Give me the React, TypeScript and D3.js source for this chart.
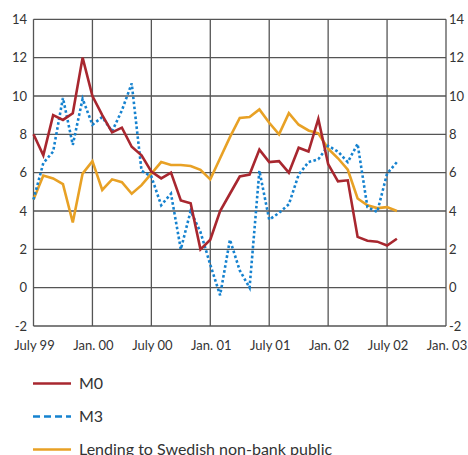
import React from "react";
import * as d3 from "d3";

// monthly observations, July 1999 .. August 2002
const m0 = [
  8.0, 6.9, 9.0, 8.75, 9.1, 12.0,
  10.0, 9.0, 8.1, 8.35, 7.35, 6.9, 6.05, 5.7, 6.0, 4.55, 4.4, 2.0,
  2.5, 4.0, 4.9, 5.8, 5.9, 7.2, 6.55, 6.6, 6.0, 7.3, 7.1, 8.8,
  6.45, 5.55, 5.6, 2.65, 2.45, 2.4, 2.2, 2.55,
];
const m3 = [
  4.6, 6.5, 7.1, 9.9, 7.45, 9.85,
  8.5, 8.9, 8.15, 9.25, 10.65, 6.1, 5.8, 4.3, 4.9, 2.0, 4.0, 2.9,
  1.2, -0.4, 2.5, 0.9, 0.0, 6.1, 3.55, 3.9, 4.35, 5.9, 6.55, 6.7,
  7.4, 7.1, 6.55, 7.5, 4.2, 3.95, 5.95, 6.55,
];
const lending = [
  4.6, 5.85, 5.7, 5.4, 3.4, 5.95,
  6.6, 5.1, 5.65, 5.5, 4.9, 5.35, 5.95, 6.55, 6.4, 6.4, 6.35, 6.15,
  5.65, 6.75, 7.85, 8.85, 8.9, 9.3, 8.6, 8.0, 9.1, 8.5, 8.2, 8.05,
  7.25, 6.75, 6.15, 4.65, 4.3, 4.15, 4.2, 4.0,
];
const xTickLabels = ["July 99", "Jan. 00", "July 00", "Jan. 01", "July 01", "Jan. 02", "July 02", "Jan. 03"];
const yTicks = [-2, 0, 2, 4, 6, 8, 10, 12, 14];
const seriesNames = ["M0", "M3", "Lending to Swedish non-bank public"];

const W = 468;
const H = 455;
const left = 33.5;
const right = 446;
const top = 19.3;
const bottom = 326;

const red = "#a8272f";
const blue = "#1582cf";
const orange = "#e8a125";
const grid = "#555";
const font = "Lato, 'Open Sans', sans-serif";

export default function App() {
  const x = d3.scaleLinear().domain([0, 42]).range([left, right]);
  const y = d3.scaleLinear().domain([-2, 14]).range([bottom, top]);
  const line = d3
    .line<number>()
    .x((_, i) => x(i))
    .y((d) => y(d));

  const series = [
    { name: seriesNames[0], data: m0, color: red, dash: undefined, legendDash: undefined },
    { name: seriesNames[1], data: m3, color: blue, dash: "2.6 2.4", legendDash: "7 4" },
    { name: seriesNames[2], data: lending, color: orange, dash: undefined, legendDash: undefined },
  ];

  return (
    <svg
      width={W}
      height={H}
      style={{ position: "absolute", left: 0, top: 0, background: "#fff" }}
      fontFamily={font}
    >
      {yTicks.map((t) => (
        <g key={t}>
          <line x1={left} x2={right} y1={y(t)} y2={y(t)} stroke={grid} strokeWidth={1.3} />
          <text x={27} y={y(t)} dy="0.35em" textAnchor="end" fontSize={13} fill="#333">
            {t}
          </text>
          <text x={449} y={y(t)} dy="0.35em" textAnchor="start" fontSize={13} fill="#333">
            {t}
          </text>
        </g>
      ))}
      {xTickLabels.map((lab, i) => (
        <g key={lab}>
          <line x1={x(i * 6)} x2={x(i * 6)} y1={top} y2={bottom} stroke={grid} strokeWidth={1.3} />
          <text x={x(i * 6) + 1} y={345} dy="0.35em" textAnchor="middle" fontSize={13} fill="#333">
            {lab}
          </text>
        </g>
      ))}
      {[series[2], series[1], series[0]].map((s) => (
        <path
          key={s.name}
          d={line(s.data) || ""}
          fill="none"
          stroke={s.color}
          strokeWidth={2.6}
          strokeDasharray={s.dash}
          strokeLinejoin="miter"
        />
      ))}
      {series.map((s, i) => {
        const ly = 383.5 + i * 33;
        return (
          <g key={s.name}>
            <line x1={33} x2={71} y1={ly} y2={ly} stroke={s.color} strokeWidth={2.5} strokeDasharray={s.legendDash} />
            <text x={79} y={ly} dy="0.36em" fontSize={16} fill="#333">
              {s.name}
            </text>
          </g>
        );
      })}
    </svg>
  );
}
